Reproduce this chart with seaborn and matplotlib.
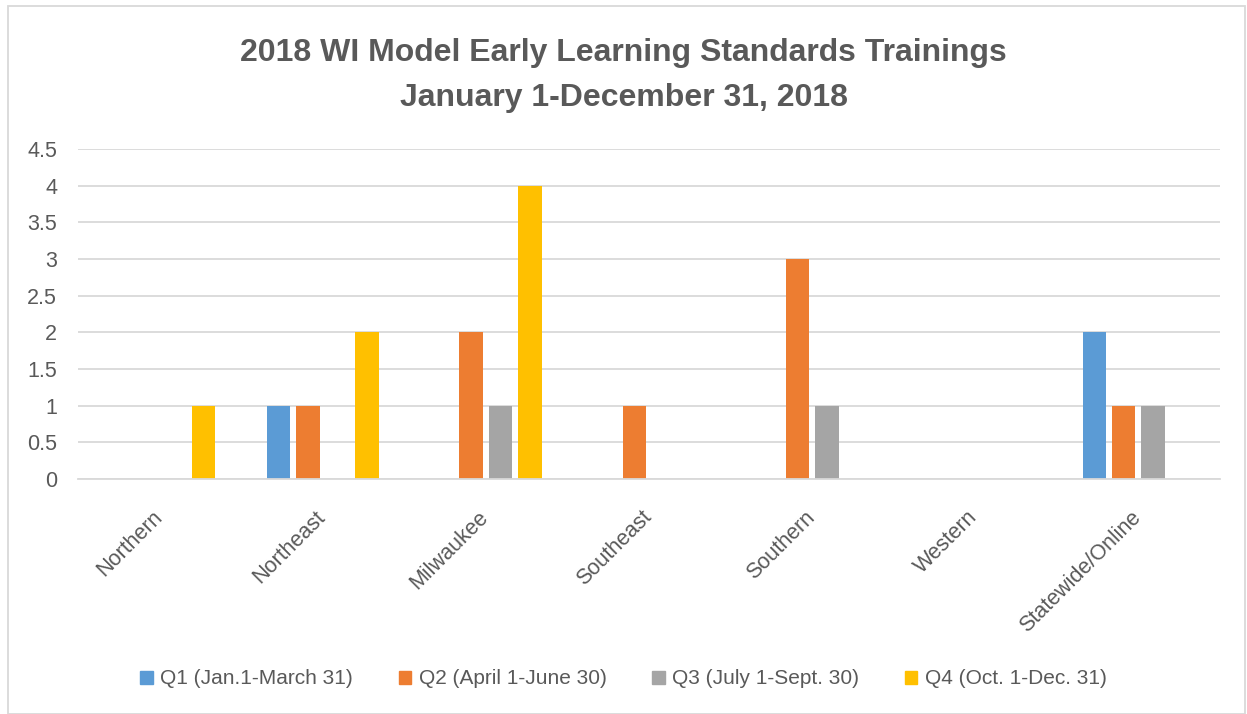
import matplotlib
matplotlib.use("Agg")
import matplotlib.pyplot as plt
import matplotlib.transforms as mtransforms
import seaborn as sns
import pandas as pd
from matplotlib.patches import Rectangle

regions = ["Northern", "Northeast", "Milwaukee", "Southeast", "Southern", "Western", "Statewide/Online"]
series_names = ["Q1 (Jan.1-March 31)", "Q2 (April 1-June 30)", "Q3 (July 1-Sept. 30)", "Q4 (Oct. 1-Dec. 31)"]
q1 = [0, 1, 0, 0, 0, 0, 2]
q2 = [0, 1, 2, 1, 3, 0, 1]
q3 = [0, 0, 1, 0, 1, 0, 1]
q4 = [1, 2, 4, 0, 0, 0, 0]
colors = ["#5B9BD5", "#ED7D31", "#A5A5A5", "#FFC000"]
yticks = [0, 0.5, 1, 1.5, 2, 2.5, 3, 3.5, 4, 4.5]
ytick_labels = ["0", "0.5", "1", "1.5", "2", "2.5", "3", "3.5", "4", "4.5"]

rows = []
for name, vals in zip(series_names, [q1, q2, q3, q4]):
    for r, v in zip(regions, vals):
        rows.append({"Region": r, "Quarter": name, "Value": v})
df = pd.DataFrame(rows)

sns.set_theme(style="white")
plt.rcParams['font.family'] = ['Liberation Sans', 'DejaVu Sans']
txt = "#595959"

fig = plt.figure(figsize=(12.47, 7.14), dpi=100)
ax = fig.add_axes([78/1247, 1 - 479/714, (1220 - 78)/1247, (479 - 149)/714])

sns.barplot(data=df, x="Region", y="Value", hue="Quarter", order=regions,
            hue_order=series_names, palette=colors, width=0.72, gap=0.2,
            saturation=1, ax=ax, legend=False, linewidth=0)

ax.set_ylim(0, 4.5)
ax.set_xlim(-0.5, len(regions) - 0.5)
ax.set_yticks(yticks)
ax.set_yticklabels(ytick_labels, color=txt, fontsize=15.5)
ax.set_xticklabels(regions, rotation=45, ha="right", rotation_mode="anchor", color=txt, fontsize=15.5)
ax.tick_params(axis="y", length=0, pad=15)
ax.tick_params(axis="x", length=0, pad=20)
shift = mtransforms.ScaledTranslation(-8/100, 0, fig.dpi_scale_trans)
for lab in ax.get_xticklabels():
    lab.set_transform(lab.get_transform() + shift)
ax.yaxis.grid(True, color="#D9D9D9", linewidth=1.3)
ax.set_axisbelow(True)
for s in ["top", "right", "left"]:
    ax.spines[s].set_visible(False)
ax.spines["bottom"].set_color("#D9D9D9")
ax.spines["bottom"].set_linewidth(1.3)
ax.set_xlabel("")
ax.set_ylabel("")

fig.text(0.5, 1 - 53/714, "2018 WI Model Early Learning Standards Trainings", ha="center", va="center",
         fontsize=23, fontweight="bold", color=txt)
fig.text(0.5, 1 - 98/714, "January 1-December 31, 2018", ha="center", va="center",
         fontsize=23, fontweight="bold", color=txt)

handles = [Rectangle((0, 0), 1, 1, color=c) for c in colors]
fig.legend(handles, series_names, loc="center", bbox_to_anchor=(0.5, 1 - 679/714), ncol=4,
           frameon=False, fontsize=15, labelcolor=txt, handlelength=0.6, handleheight=0.6,
           handletextpad=0.35, columnspacing=2.2)

fig.add_artist(Rectangle((8/1247, 0), 1 - 10/1247, 1 - 6/714, transform=fig.transFigure,
                         fill=False, edgecolor="#D9D9D9", linewidth=1.3))

fig.savefig("out.png", dpi=100)
